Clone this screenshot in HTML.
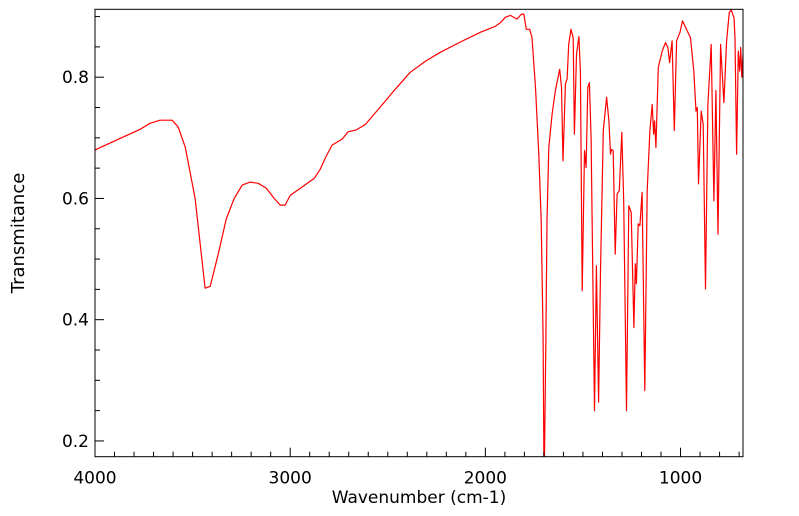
<!DOCTYPE html>
<html><head><meta charset="utf-8"><style>
body{margin:0;background:#fff;}
svg{display:block;font-family:"DejaVu Sans","Liberation Sans",sans-serif;}
</style></head><body>
<svg id="chart" width="799" height="516">
<defs><clipPath id="clip"><rect x="95" y="9.3" width="648" height="447.4"/></clipPath></defs>
</svg>
<script>
const wavenumbers=[4000,3769,3718,3667,3605,3574,3538,3487,3436,3410,3369,3328,3287,3246,3205,3164,3123,3082,3051,3026,3000,2938,2877,2846,2815,2785,2733,2703,2662,2615,2538,2462,2385,2308,2231,2128,2026,1949,1923,1897,1872,1838,1815,1803,1790,1773,1761,1743,1726,1714,1704,1699,1690,1684,1675,1658,1641,1619,1610,1602,1590,1581,1573,1561,1550,1544,1533,1521,1513,1504,1492,1484,1475,1467,1458,1441,1431,1420,1410,1396,1379,1367,1359,1354,1345,1335,1325,1314,1301,1291,1277,1265,1253,1239,1232,1226,1217,1208,1197,1183,1171,1157,1145,1138,1133,1126,1114,1094,1077,1065,1056,1043,1032,1020,1003,990,974,949,932,921,914,908,894,884,872,860,843,829,819,808,795,778,764,750,740,726,721,713,704,697,692,686,680];
const transmittance=[0.680,0.714,0.724,0.729,0.729,0.718,0.685,0.600,0.452,0.455,0.508,0.566,0.600,0.622,0.627,0.625,0.617,0.600,0.589,0.589,0.605,0.619,0.633,0.648,0.670,0.688,0.698,0.710,0.713,0.722,0.751,0.780,0.808,0.826,0.841,0.858,0.874,0.884,0.890,0.899,0.902,0.896,0.904,0.904,0.879,0.879,0.865,0.783,0.673,0.563,0.371,0.12,0.371,0.563,0.684,0.739,0.778,0.813,0.783,0.662,0.789,0.797,0.854,0.879,0.865,0.706,0.838,0.867,0.810,0.448,0.679,0.651,0.783,0.791,0.700,0.250,0.489,0.264,0.481,0.712,0.767,0.728,0.673,0.681,0.679,0.508,0.607,0.613,0.709,0.596,0.250,0.588,0.577,0.387,0.492,0.459,0.558,0.555,0.610,0.283,0.613,0.712,0.755,0.706,0.728,0.684,0.816,0.843,0.857,0.849,0.824,0.860,0.712,0.860,0.874,0.893,0.882,0.865,0.810,0.744,0.750,0.624,0.744,0.722,0.451,0.755,0.854,0.596,0.778,0.541,0.854,0.758,0.860,0.907,0.911,0.898,0.865,0.673,0.843,0.810,0.849,0.800,0.838];
const xTickLabels=[4000,3000,2000,1000];
const yTickLabels=[0.2,0.4,0.6,0.8];

const NS="http://www.w3.org/2000/svg";
const svg=document.getElementById('chart');
const L=95,R=743,T=9.3,B=456.7;
const X0=4000,X1=680,Y0=0.174,Y1=0.912;
const sx=v=>L+(X0-v)/(X0-X1)*(R-L);
const sy=v=>B-(v-Y0)/(Y1-Y0)*(B-T);
function mk(tag,attrs){const e=document.createElementNS(NS,tag);for(const k in attrs)e.setAttribute(k,attrs[k]);svg.appendChild(e);return e;}

let d='';
wavenumbers.forEach((w,i)=>{d+=(i?'L':'M')+sx(w).toFixed(1)+' '+sy(transmittance[i]).toFixed(1);});
const line=mk('path',{d:d,fill:'none',stroke:'#ff0000','stroke-width':1.2,'stroke-linejoin':'round','clip-path':'url(#clip)'});



const fr=mk('rect',{x:L,y:T,width:R-L,height:B-T,fill:'none',stroke:'#000','stroke-width':1});



for(let v=4000;v>=X1;v-=100){
  const major=v%1000===0;
  const t=mk('line',{x1:sx(v),x2:sx(v),y1:B,y2:B-(major?9:5),stroke:'#000','stroke-width':1});
  
  
}
xTickLabels.forEach(v=>{
  const t=mk('text',{x:sx(v),y:B+27,'text-anchor':'middle','font-size':17,fill:'#000'});
  t.textContent=v;
  
  
});
for(let k=4;k<=18;k++){
  const v=k*0.05;
  const major=k%4===0;
  const t=mk('line',{x1:L,x2:L+(major?9:5),y1:sy(v),y2:sy(v),stroke:'#000','stroke-width':1});
  
  
}
yTickLabels.forEach(v=>{
  const t=mk('text',{x:L-6,y:sy(v)+6,'text-anchor':'end','font-size':17,fill:'#000'});
  t.textContent=v.toFixed(1);
  
  
});
const xt=mk('text',{x:(L+R)/2,y:503,'text-anchor':'middle','font-size':17,fill:'#000'});
xt.textContent='Wavenumber (cm-1)';


const yt=mk('text',{x:0,y:0,'text-anchor':'middle','font-size':18,fill:'#000',transform:'translate(24,233) rotate(-90)'});
yt.textContent='Transmitance';


</script>
</body></html>
